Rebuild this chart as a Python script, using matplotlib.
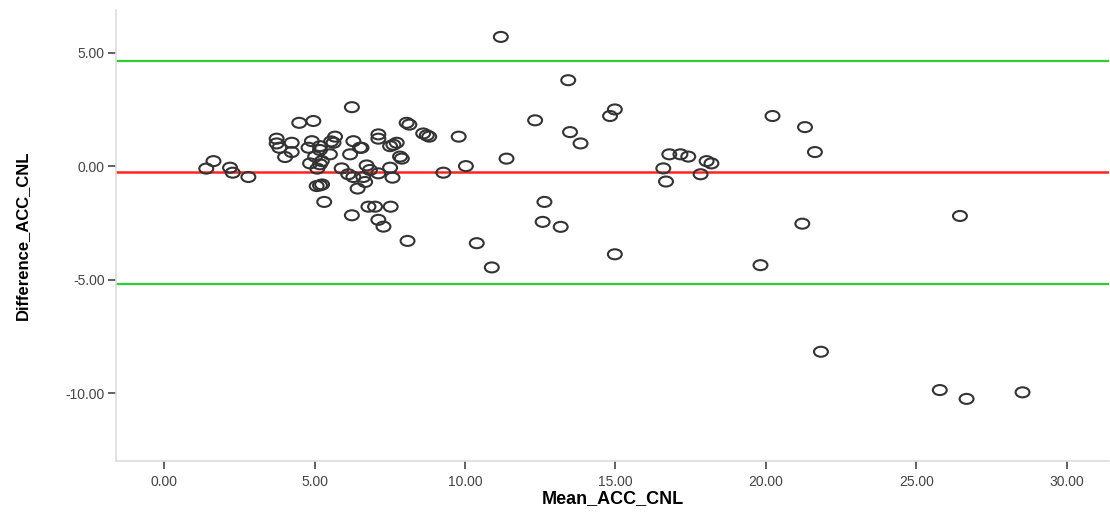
import numpy as np
import matplotlib
matplotlib.use("Agg")
from matplotlib import pyplot as plt
from matplotlib.path import Path

# Bland-Altman data: mean and difference of ACC vs CNL
mean_acc = [6.24, 4.49, 4.96, 3.74, 3.74, 4.24, 3.83, 4.24, 4.02, 4.91,
            4.80, 5.18, 5.18, 5.68, 5.63, 5.55, 5.02, 5.51, 5.24, 4.85,
            5.18, 6.29, 6.51, 6.56, 6.18, 7.12, 7.12, 7.51, 7.73, 7.62,
            7.84, 7.90, 8.06, 8.15, 8.61, 8.73, 8.81, 9.79, 10.03, 9.28,
            1.64, 1.40, 2.19, 2.28, 2.80, 5.09, 5.90, 6.12, 6.29, 6.62,
            6.73, 6.84, 6.68, 6.43, 7.12, 7.51, 7.59, 5.07, 5.18, 5.25,
            5.32, 6.24, 6.79, 7.01, 7.53, 7.12, 7.29, 8.09, 10.39,
            11.19, 13.43, 14.98, 14.82, 12.33, 13.49, 13.84, 11.38,
            20.22, 21.30, 21.63, 16.79, 17.16, 17.42, 18.03, 18.19,
            16.59, 16.68, 17.83, 12.64, 12.58, 13.18, 21.21, 10.89,
            14.98, 19.82, 26.45, 21.83, 25.78, 26.67, 28.53]
diff_acc = [2.61, 1.92, 2.00, 1.22, 1.01, 1.04, 0.82, 0.63, 0.41, 1.11,
            0.82, 0.89, 0.72, 1.31, 1.04, 1.10, 0.43, 0.53, 0.23, 0.13,
            0.09, 1.11, 0.82, 0.82, 0.53, 1.41, 1.22, 0.89, 1.04, 0.95,
            0.43, 0.34, 1.92, 1.84, 1.45, 1.37, 1.31, 1.31, 0.01, -0.28,
            0.23, -0.10, -0.06, -0.28, -0.47, -0.10, -0.09, -0.35, -0.47, -0.47,
            0.04, -0.16, -0.69, -0.98, -0.31, -0.06, -0.50, -0.87, -0.84, -0.80,
            -1.57, -2.16, -1.78, -1.78, -1.78, -2.36, -2.66, -3.29, -3.39,
            5.71, 3.80, 2.51, 2.22, 2.03, 1.51, 1.01, 0.34,
            2.22, 1.73, 0.63, 0.53, 0.53, 0.43, 0.23, 0.13,
            -0.09, -0.67, -0.35, -1.57, -2.45, -2.67, -2.53, -4.46,
            -3.88, -4.36, -2.19, -8.18, -9.87, -10.26, -9.97]

mean_diff = -0.27
upper_loa = 4.65
lower_loa = -5.20

xticks = [0, 5, 10, 15, 20, 25, 30]
yticks = [-10, -5, 0, 5]

# squashed open circle like the SPSS output
circ = Path.unit_circle()
ellipse = Path(circ.vertices * np.array([1.0, 0.72]), circ.codes)

fig = plt.figure(figsize=(11.1, 5.12), dpi=100)
ax = fig.add_axes([0.1045, 0.0996, 0.8945, 0.881])

ax.axhline(upper_loa, color='#2ecc2e', lw=1.6, zorder=1)
ax.axhline(lower_loa, color='#2ecc2e', lw=1.6, zorder=1)
ax.axhline(mean_diff, color='#ff2424', lw=1.8, zorder=1)

ax.scatter(mean_acc, diff_acc, marker=ellipse, s=100, facecolors='none',
           edgecolors='#333333', linewidths=1.5, zorder=2)

ax.set_xlim(-1.6, 31.4)
ax.set_ylim(-13.0, 6.9)
ax.set_xticks(xticks)
ax.set_yticks(yticks)
ax.set_xticklabels(['%.2f' % v for v in xticks])
ax.set_yticklabels(['%.2f' % v for v in yticks])

for s in ['top', 'right']:
    ax.spines[s].set_visible(False)
for s in ['left', 'bottom']:
    ax.spines[s].set_color('#dddddd')
    ax.spines[s].set_linewidth(1.2)

tickfont = ['Liberation Sans', 'DejaVu Sans']
ax.tick_params(axis='both', direction='out', length=6, width=1.3,
               color='#555555', labelcolor='#444444', labelsize=10)
ax.tick_params(axis='x', pad=4)
ax.tick_params(axis='y', pad=2)
for lab in ax.get_xticklabels() + ax.get_yticklabels():
    lab.set_family(tickfont)

ax.set_xlabel('Mean_ACC_CNL', fontsize=13, fontweight='bold',
              family=['Liberation Sans', 'DejaVu Sans'], labelpad=1)
ax.set_ylabel('Difference_ACC_CNL', fontsize=12, fontweight='bold',
              family=['Liberation Sans Narrow', 'Liberation Sans', 'DejaVu Sans'],
              labelpad=26)

fig.savefig('out.png', dpi=100, facecolor='white')
